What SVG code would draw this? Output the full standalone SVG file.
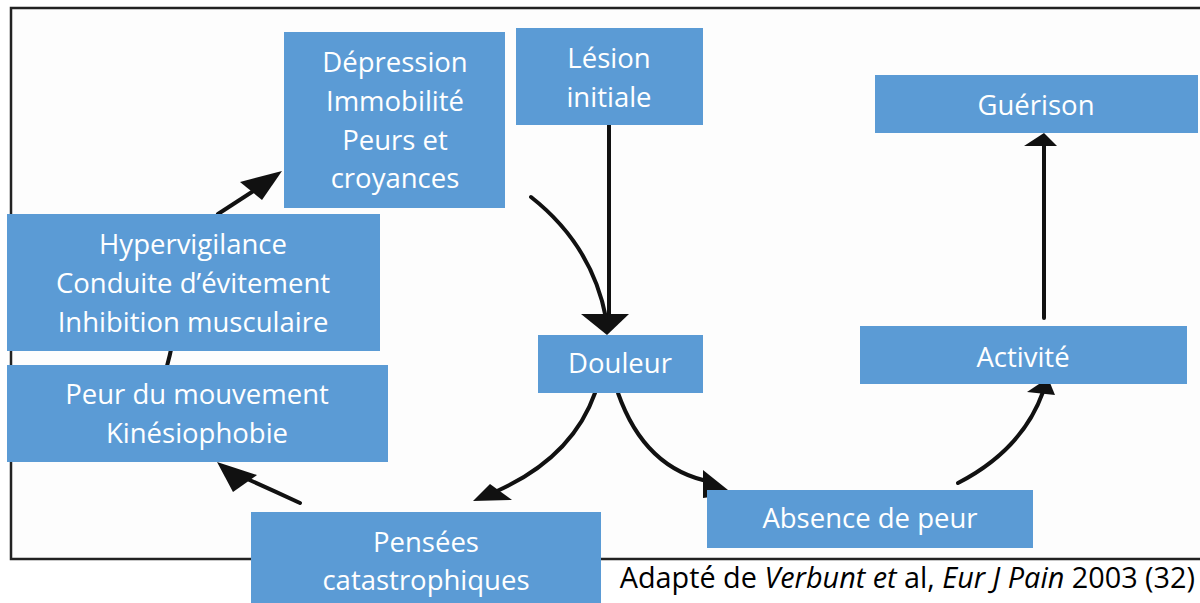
<svg xmlns="http://www.w3.org/2000/svg" width="1200" height="603" viewBox="0 0 1200 603">
<style>
.box{fill:#5B9BD5}
.t{font-family:"Open Sans","Liberation Sans",sans-serif;font-size:27.5px;fill:#FFFFFF;text-anchor:middle}
.c{fill:none;stroke:#111;stroke-width:4;stroke-linecap:round}
.cap{font-family:"Open Sans","Liberation Sans",sans-serif;font-size:28.8px;fill:#000}
</style>
<rect width="1200" height="603" fill="#FFFFFF"/>
<g id="frame">
<rect x="11" y="8" width="1200" height="551" fill="#FDFDFD" stroke="#222" stroke-width="2.5"/>
</g>
<g id="connectors">
<path class="c" d="M609,125 L609,318"/>
<polygon points="581,314 629,314 607,335" fill="#111"/>
<path class="c" d="M531,197 Q592,245 606,318"/>
<path class="c" d="M595,393 Q572,458 495,492"/>
<polygon points="473,501 490,484 512,500" fill="#111"/>
<path class="c" d="M618,393 Q645,470 712,482"/>
<polygon points="703,470 733,494 703,498" fill="#111"/>
<path class="c" d="M958,483 Q1022,450 1043,392"/>
<polygon points="1027,392 1048,378 1055,395" fill="#111"/>
<path class="c" d="M1044,318 L1044,145"/>
<polygon points="1024,146 1044,133 1057,146" fill="#111"/>
<path class="c" d="M300,503 Q272,490 245,478"/>
<polygon points="217,462 257,475 233,492" fill="#111"/>
<path class="c" d="M167,366 Q170,355 172,345"/>
<path class="c" d="M218,214 L255,190"/>
<polygon points="282,171 240,182 262,200" fill="#111"/>
</g>
<g id="n-depression">
<rect class="box" x="284" y="32" width="221" height="176"/>
<text class="t" x="395" y="72">Dépression</text>
<text class="t" x="395" y="111">Immobilité</text>
<text class="t" x="395" y="150">Peurs et</text>
<text class="t" x="395" y="188">croyances</text>
</g>
<g id="n-lesion">
<rect class="box" x="516" y="28" width="187" height="97"/>
<text class="t" x="609" y="68">Lésion</text>
<text class="t" x="609" y="107">initiale</text>
</g>
<g id="n-guerison">
<rect class="box" x="875" y="75" width="323" height="58"/>
<text class="t" x="1036" y="115">Guérison</text>
</g>
<g id="n-hyper">
<rect class="box" x="7" y="214" width="373" height="137"/>
<text class="t" x="193" y="254">Hypervigilance</text>
<text class="t" x="193" y="293">Conduite d’évitement</text>
<text class="t" x="193" y="332">Inhibition musculaire</text>
</g>
<g id="n-peur">
<rect class="box" x="7" y="365" width="381" height="97"/>
<text class="t" x="197" y="404">Peur du mouvement</text>
<text class="t" x="197" y="443">Kinésiophobie</text>
</g>
<g id="n-douleur">
<rect class="box" x="538" y="335" width="165" height="58"/>
<text class="t" x="620" y="373">Douleur</text>
</g>
<g id="n-activite">
<rect class="box" x="860" y="326" width="327" height="58"/>
<text class="t" x="1023" y="367">Activité</text>
</g>
<g id="n-pensees">
<rect class="box" x="251" y="512" width="350" height="95"/>
<text class="t" x="426" y="552">Pensées</text>
<text class="t" x="426" y="590">catastrophiques</text>
</g>
<g id="n-absence">
<rect class="box" x="707" y="490" width="326" height="58"/>
<text class="t" x="870" y="528">Absence de peur</text>
</g>
<text class="cap" x="1195" y="588" text-anchor="end">Adapté de <tspan font-style="italic">Verbunt et</tspan> al, <tspan font-style="italic">Eur J Pain</tspan> 2003 (32)</text>
</svg>
